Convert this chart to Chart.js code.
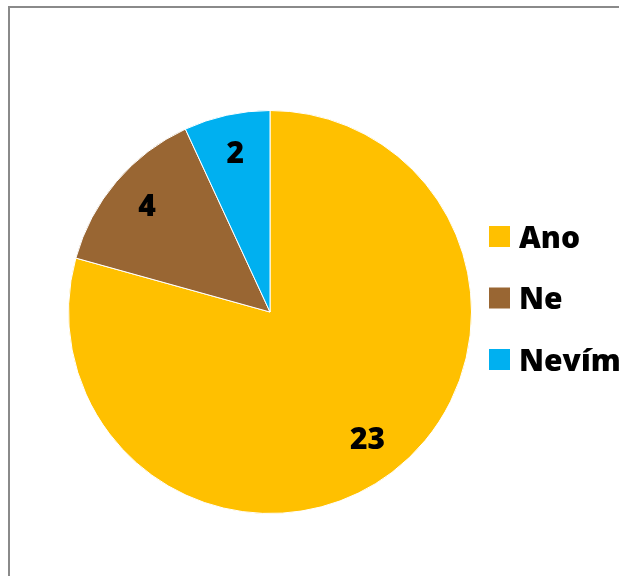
<!DOCTYPE html>
<html>
<head>
<meta charset="utf-8">
<script src="https://cdn.jsdelivr.net/npm/chart.js@4"></script>
<style>
  html, body { margin: 0; padding: 0; background: #fff; overflow: hidden; }
  canvas { display: block; }
</style>
</head>
<body>
<canvas id="pie" width="619" height="576"></canvas>
<script>
const labels = ['Ano', 'Ne', 'Nevím'];
const values = [23, 4, 2];
const colors = ['#FFC000', '#996633', '#00B0F0'];

const fontFamily = '"Open Sans", "DejaVu Sans", sans-serif';

// chart frame: only left and top edges are inside the picture
const frame = {
  id: 'frame',
  beforeDraw(chart) {
    const ctx = chart.ctx;
    ctx.save();
    ctx.strokeStyle = '#8a8a8a';
    ctx.lineWidth = 2;
    ctx.beginPath();
    ctx.moveTo(9, chart.height);
    ctx.lineTo(9, 7);
    ctx.lineTo(chart.width, 7);
    ctx.stroke();
    ctx.restore();
  }
};

// value labels inside slices
const sliceLabels = {
  id: 'sliceLabels',
  afterDatasetsDraw(chart) {
    const ctx = chart.ctx;
    const meta = chart.getDatasetMeta(0);
    ctx.save();
    ctx.font = '800 30px ' + fontFamily;
    ctx.fillStyle = '#000';
    ctx.textAlign = 'center';
    ctx.textBaseline = 'middle';
    meta.data.forEach((arc, i) => {
      const mid = (arc.startAngle + arc.endAngle) / 2;
      const r = arc.outerRadius * 0.8;
      ctx.fillText(String(values[i]), arc.x + Math.cos(mid) * r, arc.y + Math.sin(mid) * r);
    });
    ctx.restore();
  }
};

// legend on the right, partly cut by the picture edge
const sideLegend = {
  id: 'sideLegend',
  afterDraw(chart) {
    const ctx = chart.ctx;
    ctx.save();
    ctx.font = '800 30px ' + fontFamily;
    ctx.textBaseline = 'alphabetic';
    ctx.textAlign = 'left';
    labels.forEach((lab, i) => {
      const cy = 236.5 + i * 61.5;
      ctx.fillStyle = colors[i];
      ctx.fillRect(489, cy - 10.5, 21, 21);
      ctx.fillStyle = '#000';
      ctx.fillText(lab, 519, cy + 11);
    });
    ctx.restore();
  }
};

new Chart(document.getElementById('pie'), {
  type: 'pie',
  data: {
    labels: labels,
    datasets: [{
      data: values,
      backgroundColor: colors,
      borderColor: '#ffffff',
      borderWidth: 1
    }]
  },
  options: {
    responsive: false,
    animation: false,
    layout: { padding: { left: 68, right: 147, top: 110, bottom: 62 } },
    plugins: {
      legend: { display: false },
      tooltip: { enabled: false }
    }
  },
  plugins: [frame, sliceLabels, sideLegend]
});
</script>
</body>
</html>
